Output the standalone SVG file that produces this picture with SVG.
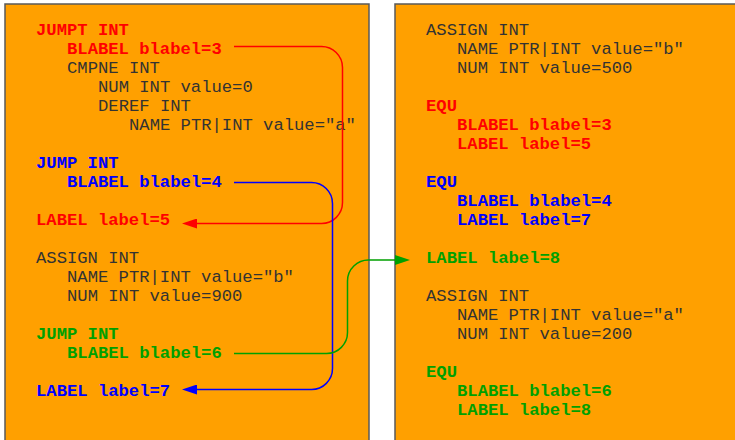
<svg xmlns="http://www.w3.org/2000/svg" width="735" height="440" viewBox="0 0 735 440">
<style>
.box{fill:#ffa000;stroke:#5a5a5a;stroke-width:1.5}
text{font-family:"Liberation Mono","Courier New",monospace;font-size:17.2px;fill:#333}
.r{fill:#ff0000;font-weight:bold}
.b{fill:#0000ff;font-weight:bold}
.g{fill:#00a000;font-weight:bold}
.c{fill:none;stroke-width:1.5}
</style>
<defs>
<marker id="ar" markerUnits="userSpaceOnUse" markerWidth="15" markerHeight="10" refX="0" refY="5" orient="auto"><path d="M0,0 L15,5 L0,10 z" fill="#ff0000"/></marker>
<marker id="ab" markerUnits="userSpaceOnUse" markerWidth="15" markerHeight="10" refX="0" refY="5" orient="auto"><path d="M0,0 L15,5 L0,10 z" fill="#0000ff"/></marker>
<marker id="ag" markerUnits="userSpaceOnUse" markerWidth="15" markerHeight="10" refX="0" refY="5" orient="auto"><path d="M0,0 L15,5 L0,10 z" fill="#00a000"/></marker>
</defs>
<rect width="735" height="440" fill="#fff"/>
<g id="left">
<rect class="box" x="5" y="4" width="364" height="460"/>
<text class="r" x="36" y="35">JUMPT INT</text>
<text class="r" x="67" y="54">BLABEL blabel=3</text>
<text x="67" y="73">CMPNE INT</text>
<text x="98" y="92">NUM INT value=0</text>
<text x="98" y="111">DEREF INT</text>
<text x="129" y="130">NAME PTR|INT value="a"</text>
<text class="b" x="36" y="168">JUMP INT</text>
<text class="b" x="67" y="187">BLABEL blabel=4</text>
<text class="r" x="36" y="225">LABEL label=5</text>
<text x="36" y="263">ASSIGN INT</text>
<text x="67" y="282">NAME PTR|INT value="b"</text>
<text x="67" y="301">NUM INT value=900</text>
<text class="g" x="36" y="339">JUMP INT</text>
<text class="g" x="67" y="358">BLABEL blabel=6</text>
<text class="b" x="36" y="396">LABEL label=7</text>
</g>
<g id="right">
<rect class="box" x="395" y="4" width="360" height="460"/>
<text x="426" y="35">ASSIGN INT</text>
<text x="457" y="54">NAME PTR|INT value="b"</text>
<text x="457" y="73">NUM INT value=500</text>
<text class="r" x="426" y="111">EQU</text>
<text class="r" x="457" y="130">BLABEL blabel=3</text>
<text class="r" x="457" y="149">LABEL label=5</text>
<text class="b" x="426" y="187">EQU</text>
<text class="b" x="457" y="206">BLABEL blabel=4</text>
<text class="b" x="457" y="225">LABEL label=7</text>
<text class="g" x="426" y="263">LABEL label=8</text>
<text x="426" y="301">ASSIGN INT</text>
<text x="457" y="320">NAME PTR|INT value="a"</text>
<text x="457" y="339">NUM INT value=200</text>
<text class="g" x="426" y="377">EQU</text>
<text class="g" x="457" y="396">BLABEL blabel=6</text>
<text class="g" x="457" y="415">LABEL label=8</text>
</g>
<g id="connectors">
<path class="c" stroke="#ff0000" marker-end="url(#ar)" d="M234,46.5 H321 A21,21 0 0 1 342.5,67.5 V202 A21,21 0 0 1 321,223.5 H197"/>
<path class="c" stroke="#0000ff" marker-end="url(#ab)" d="M234,182.5 H311 A21,21 0 0 1 332.5,203.5 V368 A21,21 0 0 1 311,389.5 H197"/>
<path class="c" stroke="#00a000" marker-end="url(#ag)" d="M234,353.5 H326 A21,21 0 0 0 347.5,332 V281 A21,21 0 0 1 369,260 H395"/>
</g>
</svg>
